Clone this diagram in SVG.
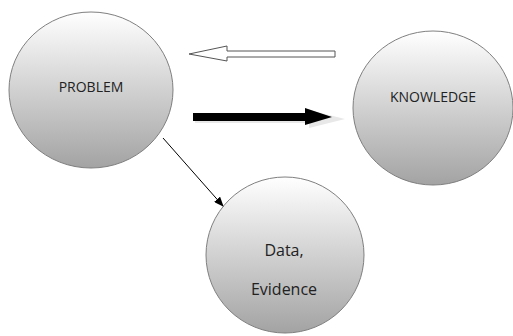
<svg xmlns="http://www.w3.org/2000/svg" width="513" height="336" viewBox="0 0 513 336">
<defs>
<linearGradient id="g" x1="0" y1="0" x2="0" y2="1">
<stop offset="0" stop-color="#ffffff"/>
<stop offset="1" stop-color="#a3a3a3"/>
</linearGradient>
<marker id="ah" markerWidth="10" markerHeight="8" refX="9" refY="4" orient="auto" markerUnits="userSpaceOnUse">
<path d="M0,0 L10,4 L0,8 Z" fill="#000"/>
</marker>
<style>
.c{fill:url(#g);stroke:#7f7f7f;stroke-width:1}
.t{font-family:"Open Sans","Liberation Sans",sans-serif;fill:#222;text-anchor:middle}
</style>
</defs>
<rect width="513" height="336" fill="#fff"/>
<g id="problem">
<ellipse class="c" cx="91" cy="90" rx="82" ry="78"/>
<text class="t" x="91" y="92" font-size="14">PROBLEM</text>
</g>
<g id="knowledge">
<ellipse class="c" cx="433" cy="108" rx="80" ry="77"/>
<text class="t" x="433" y="102" font-size="14">KNOWLEDGE</text>
</g>
<g id="data">
<ellipse class="c" cx="285" cy="255" rx="79" ry="78"/>
<text class="t" x="284" y="256" font-size="16">Data,</text>
<text class="t" x="284" y="295" font-size="16">Evidence</text>
</g>
<g id="connectors">
<path d="M335,51 L227,51 L227,46 L189,54 L227,61 L227,57 L335,57 Z" fill="#fff" stroke="#555" stroke-width="1"/>
<path d="M195,115 L309,115 L309,110 L345,119 L309,128 L309,123 L195,123 Z" fill="#e8e8e8"/>
<path d="M193,113 L305,113 L305,108 L332,117 L305,125 L305,121 L193,121 Z" fill="#000"/>
<line x1="163" y1="138" x2="223" y2="206" stroke="#000" stroke-width="1" marker-end="url(#ah)"/>
</g>
</svg>
